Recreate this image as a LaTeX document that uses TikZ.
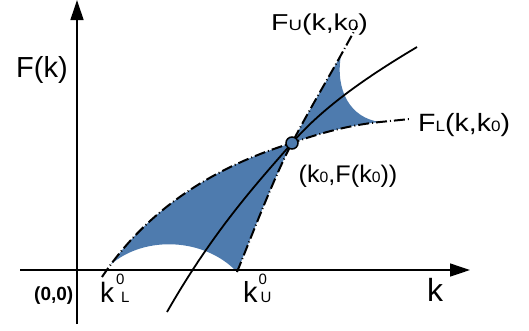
\documentclass[tikz,border=0pt]{standalone}
\usepackage{fontspec}
\setmainfont{Liberation Sans}
\usetikzlibrary{arrows.meta}
\definecolor{fillblue}{RGB}{78,123,174}
\newcommand{\fsz}[1]{\fontsize{#1}{#1}\selectfont}
\begin{document}
\begin{tikzpicture}[x=1pt,y=-1pt,
  axis/.style={line width=1.3pt,-{Triangle[length=20pt,width=13pt]}},
  bound/.style={line width=2pt,dash pattern=on 11pt off 3pt on 1pt off 3pt},
  curve/.style={line width=1.8pt},
  lab/.style={inner sep=0pt,anchor=base west},
  dot/.style={circle,draw,fill=fillblue,line width=1.5pt,minimum size=12pt,inner sep=0pt}
]
\useasboundingbox (0,0) rectangle (529,330);
% key points
\coordinate (P) at (292,143);
\coordinate (A) at (102,277);
\coordinate (Ls) at (110.87,264.39);
\coordinate (Ub) at (237,272);
\coordinate (Ut) at (341,55);
\coordinate (Ue) at (357,26);
\coordinate (Lr) at (380,122);
\coordinate (Le) at (410,119);
\coordinate (Cb) at (167,312);
\coordinate (Ct) at (417,47);
% axes
\coordinate (yb) at (77,324);
\coordinate (yt) at (77,0);
\coordinate (xl) at (20,270);
\coordinate (xr) at (470,270);
% shaded regions
\fill[fillblue] (Ls) .. controls (158.41,200.26) and (224.32,163.68) .. (P)
  .. controls (275,175) and (252,235) .. (Ub)
  .. controls (205,238) and (145,235) .. (Ls) -- cycle;
\fill[fillblue] (P) .. controls (308,112) and (326,82) .. (Ut)
  .. controls (335,90) and (350,118) .. (Lr)
  .. controls (350,125) and (320,133) .. (P) -- cycle;
\draw[axis] (yb) -- (yt);
\draw[axis] (xl) -- (xr);
% bounds
\draw[bound] (A) .. controls (150,205) and (220,165) .. (P)
  .. controls (320,133) and (350,125) .. (Lr) -- (Le);
\draw[bound] (Ub) .. controls (252,235) and (275,175) .. (P)
  .. controls (308,112) and (326,82) .. (Ut) -- (Ue);
% function
\draw[curve] (Cb) .. controls (215,228) and (260,180) .. (P)
  .. controls (324,106) and (370,75) .. (Ct);
\node[dot] (pt) at (P) {};
% labels
\node[lab] (Fk) at (16,77) {\fsz{29}F(k)};
\node[lab] (FU) at (271,30) {\scalebox{1.24}[1]{\fsz{23}F{\fsz{15}U}(k,k{\fsz{15}0})}};
\node[lab] (FL) at (418,131) {\scalebox{1.14}[1]{\fsz{25}F{\fsz{15}L}(k,k{\fsz{15}0})}};
\node[lab] (pk) at (298.5,182) {\scalebox{1.05}[1]{\fsz{24}(k{\fsz{15}0},F(k{\fsz{15}0}))}};
\node[lab] (kx) at (427,301) {\fsz{32}k};
\node[lab] (kL) at (100,302) {\fsz{28}k\hspace{2pt}\rlap{\raisebox{18pt}{\fsz{15}0}}\hspace{5pt}{\fsz{15}L}};
\node[lab] (kU) at (243,302) {\fsz{29}k\hspace{1pt}\rlap{\raisebox{18pt}{\fsz{15}0}}\hspace{2pt}{\fsz{15}U}};
\node[lab] (O) at (34,300) {\fsz{19}\bfseries (0,0)};
\end{tikzpicture}
\end{document}
